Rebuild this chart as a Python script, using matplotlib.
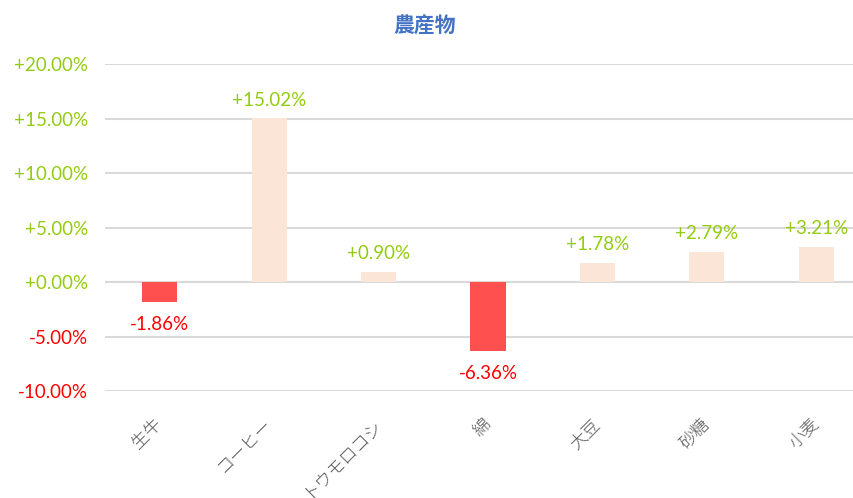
import matplotlib
matplotlib.use("Agg")
import matplotlib.pyplot as plt
from matplotlib.ticker import FuncFormatter

categories = ["生牛", "コーヒー", "トウモロコシ", "綿", "大豆", "砂糖", "小麦"]
values = [-1.86, 15.02, 0.90, -6.36, 1.78, 2.79, 3.21]
yticks = [-10, -5, 0, 5, 10, 15, 20]

POS_BAR = "#FBE5D6"
NEG_BAR = "#FF5050"
POS_TXT = "#92CC12"
NEG_TXT = "#FF0000"

fig = plt.figure(figsize=(8.54, 4.98), dpi=100)
ax = fig.add_axes([105/854, (498-391)/498, 766/854, (391-64)/498])

x = list(range(len(categories)))
colors = [POS_BAR if v >= 0 else NEG_BAR for v in values]
ax.bar(x, values, width=0.32, color=colors, zorder=3)

ax.set_xlim(-0.5, len(categories) - 0.5)
ax.set_ylim(-10, 20)
ax.set_yticks(yticks)
ax.yaxis.set_major_formatter(FuncFormatter(lambda v, p: f"{v:+.2f}%"))
ax.grid(axis="y", color="#D9D9D9", linewidth=1.5, zorder=0)
for s in ax.spines.values():
    s.set_visible(False)
ax.tick_params(axis="both", length=0)
ax.tick_params(axis="y", pad=12)

for lbl, v in zip(ax.get_yticklabels(), yticks):
    lbl.set_fontfamily("Lato")
    lbl.set_fontsize(13.5)
    lbl.set_color(POS_TXT if v >= 0 else NEG_TXT)

ax.set_xticks(x)
ax.set_xticklabels(categories, rotation=45, ha="right", va="center", rotation_mode="anchor",
                   fontfamily=["Noto Sans CJK JP", "DejaVu Sans"], fontsize=12.5,
                   color="#595959", fontweight="light")
ax.tick_params(axis="x", pad=22)

for xi, v in zip(x, values):
    if v >= 0:
        ax.annotate(f"{v:+.2f}%", (xi, v), xytext=(0, 7), textcoords="offset points",
                    ha="center", va="bottom", color=POS_TXT, fontsize=13.5, fontfamily="Lato")
    else:
        ax.annotate(f"{v:+.2f}%", (xi, v), xytext=(0, -10), textcoords="offset points",
                    ha="center", va="top", color=NEG_TXT, fontsize=13.5, fontfamily="Lato")

fig.text(425/854, 1 - 26/498, "農産物", ha="center", va="center", fontsize=15,
         fontweight="bold", color="#4472C4", fontfamily=["Noto Sans CJK JP", "DejaVu Sans"])

fig.savefig("out.png", dpi=100)
